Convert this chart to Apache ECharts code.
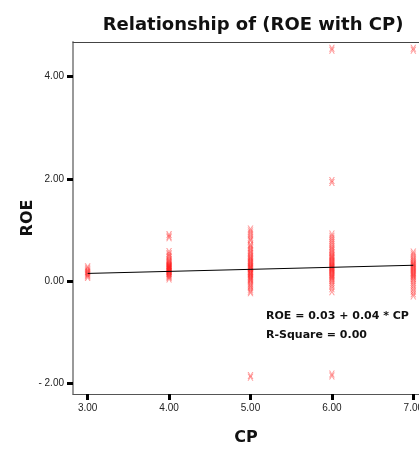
<!DOCTYPE html>
<html>
<head>
<meta charset="utf-8">
<script src="https://cdn.jsdelivr.net/npm/echarts@6/dist/echarts.min.js"></script>
<style>html,body{margin:0;padding:0;background:#fff;}#c{width:419px;height:452px;}</style>
</head>
<body>
<div id="c"></div>
<script>
// ---- data ----
const titleText = "Relationship of (ROE with CP)";
const xName = "CP";
const yName = "ROE";
const xTicks = [3, 4, 5, 6, 7];
const yTicks = [-2, 0, 2, 4];
const intercept = 0.03;
const slope = 0.04;
const rSquare = 0.00;

const roeCP3 = [0.07, 0.10, 0.12, 0.14, 0.16, 0.18, 0.20, 0.22, 0.25, 0.28];
const roeCP4 = [0.85, 0.88, 0.91,
  0.04, 0.07, 0.09, 0.11, 0.13, 0.15, 0.16, 0.18, 0.19, 0.20, 0.21, 0.22, 0.23, 0.24,
  0.25, 0.26, 0.27, 0.28, 0.29, 0.30, 0.31, 0.33, 0.34, 0.36, 0.38, 0.40, 0.42, 0.45,
  0.48, 0.51, 0.54, 0.58];
const roeCP5 = [1.02, 0.98, 0.94, 0.90, 0.86, 0.82, 0.79,
  0.72, 0.69, 0.66, 0.63, 0.60, 0.57, 0.54, 0.51, 0.48, 0.46, 0.44, 0.42, 0.40, 0.38,
  0.36, 0.34, 0.32, 0.30, 0.28, 0.27, 0.25, 0.24, 0.22, 0.20, 0.19, 0.17, 0.15, 0.14,
  0.12, 0.10, 0.08, 0.06, 0.04, 0.02, 0.00, -0.03, -0.06, -0.09, -0.12, -0.16, -0.20, -0.23,
  -1.85, -1.88];
const roeCP6 = [4.52, 4.56, 1.93, 1.97, -1.82, -1.86,
  0.92, 0.88, 0.84, 0.80, 0.76, 0.72, 0.68, 0.65, 0.62, 0.59, 0.56, 0.53, 0.50, 0.48,
  0.46, 0.44, 0.42, 0.40, 0.38, 0.36, 0.34, 0.32, 0.30, 0.29, 0.27, 0.26, 0.24, 0.23,
  0.21, 0.20, 0.18, 0.16, 0.14, 0.12, 0.10, 0.08, 0.06, 0.04, 0.01, -0.02, -0.06, -0.10,
  -0.15, -0.21];
const roeCP7 = [4.52, 4.56,
  0.57, 0.53, 0.49, 0.45, 0.42, 0.39, 0.36, 0.34, 0.32, 0.30, 0.28, 0.26, 0.24, 0.22,
  0.20, 0.18, 0.16, 0.14, 0.12, 0.10, 0.08, 0.05, 0.02, -0.02, -0.06, -0.10, -0.15,
  -0.20, -0.25, -0.29];

// ---- build ----
const groups = [[3, roeCP3], [4, roeCP4], [5, roeCP5], [6, roeCP6], [7, roeCP7]];
const pts = [];
groups.forEach(g => g[1].forEach(v => pts.push([g[0], v])));
const fitLine = [xTicks[0], xTicks[xTicks.length - 1]].map(x => [x, intercept + slope * x]);

const chart = echarts.init(document.getElementById('c'), null, {renderer: 'canvas'});
const FONT = 'Liberation Sans, Arial, sans-serif';
const WIDE = 'DejaVu Sans, Verdana, sans-serif';
const X_MIN = 2.82, X_MAX = 7.07;
chart.setOption({
  animation: false,
  title: {
    text: titleText,
    left: 248, top: 11, textAlign: 'center',
    textStyle: {fontFamily: WIDE, fontSize: 18, fontWeight: 'bold', color: '#111'}
  },
  grid: {left: 73, right: 0, top: 42, bottom: 58, show: false, outerBoundsMode: 'none', containLabel: false},
  xAxis: [{
    type: 'value', min: X_MIN, max: X_MAX,
    name: xName, nameLocation: 'middle', nameGap: 36, nameMoveOverlap: false,
    nameTextStyle: {fontFamily: WIDE, fontSize: 16, fontWeight: 'bold', color: '#111'},
    splitLine: {show: false},
    axisLine: {show: true, onZero: false, lineStyle: {color: '#555', width: 1}},
    axisTick: {show: true, customValues: xTicks, length: 6, inside: false, lineStyle: {color: '#000', width: 3}},
    axisLabel: {customValues: xTicks, margin: 9, fontFamily: FONT, fontSize: 10, color: '#222',
      hideOverlap: false, formatter: v => v.toFixed(2)}
  }, {
    type: 'value', position: 'top', min: X_MIN, max: X_MAX,
    splitLine: {show: false},
    axisLine: {show: true, onZero: false, lineStyle: {color: '#444', width: 1}},
    axisTick: {show: false}, axisLabel: {show: false}
  }],
  yAxis: {
    type: 'value', min: -2.21, max: 4.68,
    name: yName, nameLocation: 'middle', nameGap: 37, nameRotate: 90, nameMoveOverlap: false,
    nameTextStyle: {fontFamily: WIDE, fontSize: 16, fontWeight: 'bold', color: '#111'},
    splitLine: {show: false},
    axisLine: {show: true, onZero: false, lineStyle: {color: '#999', width: 2}},
    axisTick: {show: true, customValues: yTicks, length: 6, inside: false, lineStyle: {color: '#000', width: 3}},
    axisLabel: {customValues: yTicks, margin: 9, fontFamily: FONT, fontSize: 10, color: '#222',
      formatter: v => (v < 0 ? '- ' + Math.abs(v).toFixed(2) : v.toFixed(2))}
  },
  graphic: [
    {type: 'text', left: 266, top: 311, style: {text: 'ROE = ' + intercept.toFixed(2) + ' + ' + slope.toFixed(2) + ' * CP', font: 'bold 11px DejaVu Sans', fill: '#111'}},
    {type: 'text', left: 266, top: 330, style: {text: 'R-Square = ' + rSquare.toFixed(2), font: 'bold 11px DejaVu Sans', fill: '#111'}}
  ],
  series: [
    {
      type: 'scatter', data: pts, xAxisIndex: 0,
      symbol: 'path://M0,0h2l3,4l3,-4h2l-4,5l4,5h-2l-3,-4l-3,4h-2l4,-5z',
      symbolSize: [6, 7],
      itemStyle: {color: 'rgba(255,25,25,0.55)'},
      z: 2
    },
    {
      type: 'line', data: fitLine, showSymbol: false, symbol: 'none', xAxisIndex: 0,
      lineStyle: {color: '#000', width: 1}, z: 3
    }
  ]
});
</script>
</body>
</html>
